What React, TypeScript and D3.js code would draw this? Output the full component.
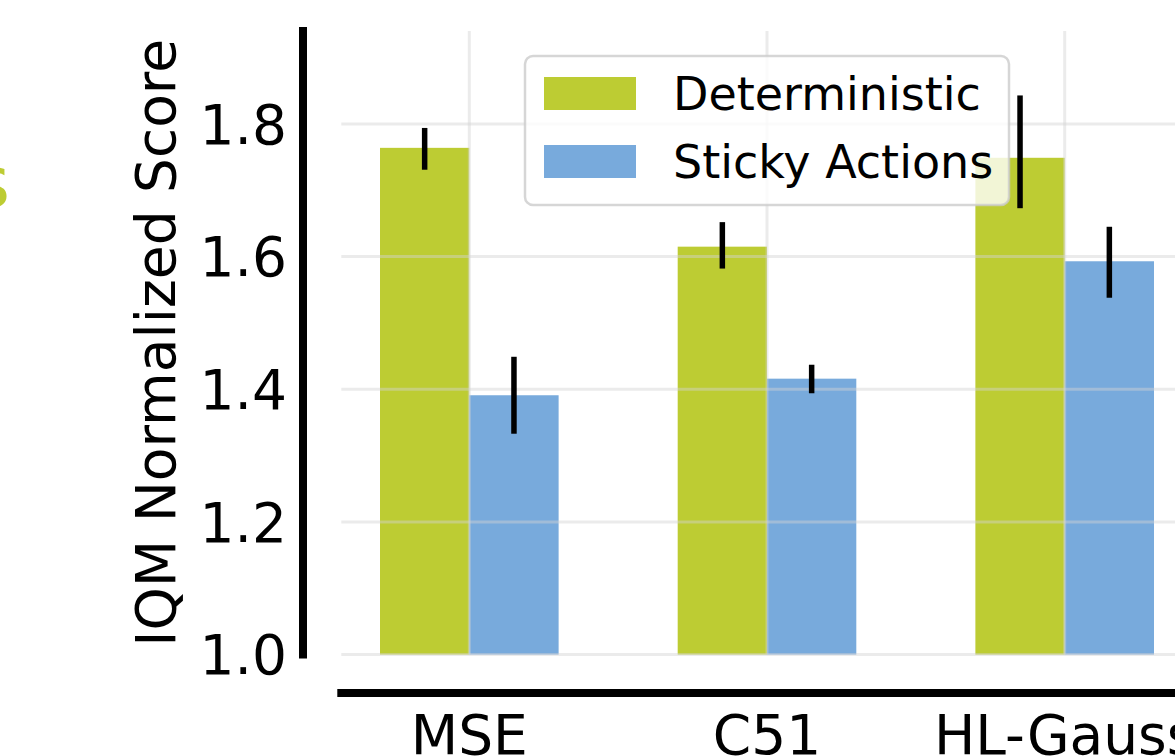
// App.tsx
import React, { useEffect, useRef } from 'react';
import * as d3 from 'd3';

// data
const methods = ['MSE', 'C51', 'HL-Gauss'];
const seriesNames = ['Deterministic', 'Sticky Actions'];
const deterministic = [1.764, 1.615, 1.749];
const deterministicLo = [1.731, 1.582, 1.673];
const deterministicHi = [1.794, 1.652, 1.843];
const sticky = [1.391, 1.416, 1.593];
const stickyLo = [1.333, 1.394, 1.538];
const stickyHi = [1.449, 1.437, 1.645];
const yTicks = [1.0, 1.2, 1.4, 1.6, 1.8];

const GREEN = '#bdcc33';
const BLUE = '#78aadc';
const FONT = '"DejaVu Sans", sans-serif';

const App: React.FC = () => {
  const svgRef = useRef<SVGSVGElement>(null);

  useEffect(() => {
    if (!svgRef.current) return;
    const svg = d3.select(svgRef.current);
    svg.selectAll('*').remove();

    // x in "group units" (0, 1, 2), y in score units
    const x = d3.scaleLinear().domain([-0.43, 2.43]).range([341.3, 1192.7]);
    const y = d3.scaleLinear().domain([1.0, 1.94]).range([654.6, 31.1]);
    const barW = 0.3;
    const pxW = x(barW) - x(0);

    const series = [
      { name: seriesNames[0], color: GREEN, vals: deterministic, lo: deterministicLo, hi: deterministicHi, off: -barW / 2 },
      { name: seriesNames[1], color: BLUE, vals: sticky, lo: stickyLo, hi: stickyHi, off: barW / 2 },
    ];

    // stray title fragment from the neighbouring panel
    svg.append('text')
      .attr('x', 10).attr('y', 207)
      .attr('text-anchor', 'end')
      .attr('font-family', FONT).attr('font-size', 72)
      .attr('fill', GREEN)
      .text('s');

    // bars
    series.forEach(s => {
      svg.append('g')
        .selectAll('rect')
        .data(s.vals)
        .enter()
        .append('rect')
        .attr('x', (_, i) => x(i + s.off) - pxW / 2)
        .attr('width', pxW)
        .attr('y', d => y(d))
        .attr('height', d => y(1.0) - y(d))
        .attr('fill', s.color);
    });

    // grid goes on top of the bars, semi transparent
    const grid = svg.append('g').attr('stroke', '#d3d3d3').attr('stroke-opacity', 0.45).attr('stroke-width', 3);
    yTicks.forEach(t => {
      grid.append('line')
        .attr('x1', x(-0.43)).attr('x2', x(2.43))
        .attr('y1', y(t)).attr('y2', y(t));
    });
    methods.forEach((_, i) => {
      grid.append('line')
        .attr('x1', x(i)).attr('x2', x(i))
        .attr('y1', y(1.94)).attr('y2', y(1.0));
    });

    // legend
    const lg = svg.append('g').attr('transform', 'translate(525, 56)');
    lg.append('rect')
      .attr('width', 484).attr('height', 149)
      .attr('rx', 8).attr('ry', 8)
      .attr('fill', 'white').attr('fill-opacity', 0.8)
      .attr('stroke', '#cccccc').attr('stroke-opacity', 0.8).attr('stroke-width', 2.5);
    series.forEach((s, i) => {
      const row = lg.append('g').attr('transform', `translate(0, ${21 + i * 68})`);
      row.append('rect').attr('x', 19).attr('width', 92).attr('height', 33).attr('fill', s.color);
      row.append('text')
        .attr('x', 148).attr('y', 16.5).attr('dy', '0.36em')
        .attr('font-family', FONT).attr('font-size', 46)
        .attr('fill', 'black')
        .text(s.name);
    });

    // error bars (drawn above legend, as in the reference)
    series.forEach(s => {
      svg.append('g')
        .selectAll('line')
        .data(s.vals)
        .enter()
        .append('line')
        .attr('x1', (_, i) => x(i + s.off)).attr('x2', (_, i) => x(i + s.off))
        .attr('y1', (_, i) => y(s.lo[i])).attr('y2', (_, i) => y(s.hi[i]))
        .attr('stroke', 'black').attr('stroke-width', 5.5);
    });

    // offset spines
    svg.append('line')
      .attr('x1', 303).attr('x2', 303)
      .attr('y1', y(1.0)).attr('y2', y(1.94))
      .attr('stroke', 'black').attr('stroke-width', 8).attr('stroke-linecap', 'square');
    svg.append('line')
      .attr('x1', x(-0.43)).attr('x2', x(2.43))
      .attr('y1', 693).attr('y2', 693)
      .attr('stroke', 'black').attr('stroke-width', 8).attr('stroke-linecap', 'square');

    // y tick labels
    svg.append('g')
      .selectAll('text')
      .data(yTicks)
      .enter()
      .append('text')
      .attr('x', 287).attr('y', d => y(d)).attr('dy', '0.36em')
      .attr('text-anchor', 'end')
      .attr('font-family', FONT).attr('font-size', 55)
      .text(d => d3.format('.1f')(d));

    // x tick labels
    svg.append('g')
      .selectAll('text')
      .data(methods)
      .enter()
      .append('text')
      .attr('x', (_, i) => x(i)).attr('y', 754)
      .attr('text-anchor', 'middle')
      .attr('font-family', FONT).attr('font-size', 55)
      .text(d => d);

    // y axis label
    svg.append('text')
      .attr('transform', `translate(175, ${(y(1.0) + y(1.94)) / 2}) rotate(-90)`)
      .attr('text-anchor', 'middle')
      .attr('font-family', FONT).attr('font-size', 55)
      .text('IQM Normalized Score');
  }, []);

  return (
    <svg
      ref={svgRef}
      width={1175}
      height={756}
      style={{ position: 'absolute', left: 0, top: 0, background: 'white' }}
    />
  );
};

export default App;
